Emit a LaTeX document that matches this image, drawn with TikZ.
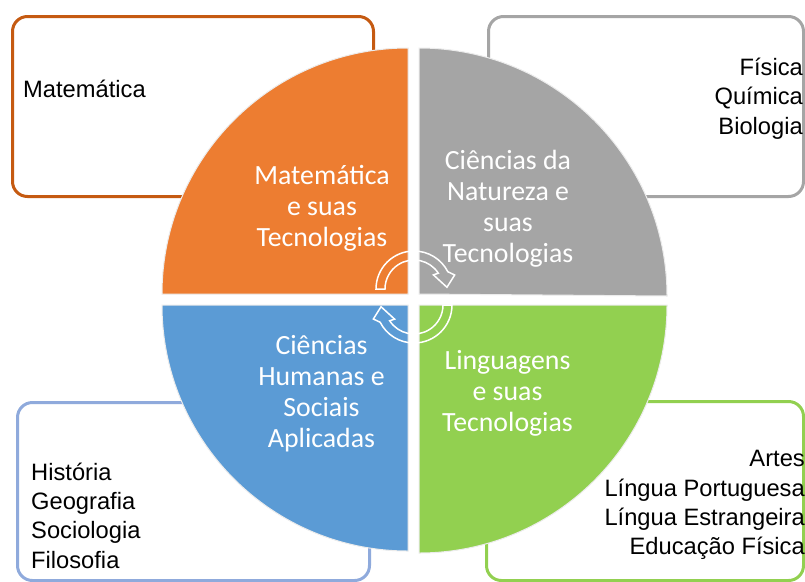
\documentclass[tikz,border=0pt]{standalone}
\usepackage{fontspec}
\setmainfont{Liberation Sans}
\newfontfamily\calfont{Carlito}
\usetikzlibrary{positioning}
\definecolor{matc}{RGB}{237,125,49}
\definecolor{matb}{RGB}{197,90,17}
\definecolor{natc}{RGB}{165,165,165}
\definecolor{humc}{RGB}{91,155,213}
\definecolor{humb}{RGB}{143,170,220}
\definecolor{linc}{RGB}{146,208,80}

\begin{document}
\begin{tikzpicture}[x=1pt,y=-1pt,every node/.style={inner sep=0pt},
  box/.style={draw=#1,line width=3pt,rounded corners=15pt,fill=white},
  quad/.style={fill=#1,draw=white!85!gray,line width=1pt},
  qtext/.style={font=\calfont\fontsize{27.8}{31}\selectfont,text=white,align=center},
  btext/.style={font=\fontsize{23.7}{29.3}\selectfont,text=black},
  turn/.style={draw=white,line width=1.5pt}]
  \useasboundingbox (0,0) rectangle (805,581);
  \clip (0,0) rectangle (805,581);
  \fill[white] (0,0) rectangle (805,581);
  \node[box=matb,minimum width=361pt,minimum height=180pt] (bmat) at (193,106.5) {};
  \node[box=natc,minimum width=315pt,minimum height=180pt] (bnat) at (646,106.5) {};
  \node[box=humb,minimum width=352pt,minimum height=178pt] (bhum) at (193.5,491.5) {};
  \node[box=linc,minimum width=317pt,minimum height=179pt] (blin) at (645,491) {};
  \path[quad=matc] (408,294) -- (162,294) arc[start angle=180,end angle=270,radius=246] -- cycle;
  \path[quad=natc] (419,294) -- (419,48) arc[start angle=270,end angle=360,radius=248] -- cycle;
  \path[quad=linc] (419,305) -- (667,305) arc[start angle=0,end angle=90,radius=248] -- cycle;
  \path[quad=humc] (408,305) -- (408,551) arc[start angle=90,end angle=180,radius=246] -- cycle;
  \node[qtext] (qmat) at (322,208) {Matemática\\e suas\\Tecnologias};
  \node[qtext] (qnat) at (508,208.5) {Ciências da\\Natureza e\\suas\\Tecnologias};
  \node[qtext] (qhum) at (321.5,394) {Ciências\\Humanas e\\Sociais\\Aplicadas};
  \node[qtext] (qlin) at (507.5,393.5) {Linguagens\\e suas\\Tecnologias};
  \coordinate (c1) at (414,289);
  \coordinate (c2) at (414,305);
  \draw[turn] ([shift={(180:38)}]c1) arc[start angle=180,end angle=333,radius=38]
    -- ([shift={(341:43)}]c1) -- ([shift={(357:33)}]c1) -- ([shift={(324:24)}]c1)
    -- ([shift={(327:29)}]c1) arc[start angle=327,end angle=180,radius=29] -- cycle;
  \draw[turn] ([shift={(0:38)}]c2) arc[start angle=0,end angle=153,radius=38]
    -- ([shift={(161:43)}]c2) -- ([shift={(177:33)}]c2) -- ([shift={(144:24)}]c2)
    -- ([shift={(147:29)}]c2) arc[start angle=147,end angle=0,radius=29] -- cycle;
  \node[btext,anchor=west] (tmat) at (23,89) {Matemática};
  \node[btext,anchor=east,align=right] (tnat) at (803,98.5) {Física\\Química\\Biologia};
  \node[btext,anchor=west,align=left] (thum) at (31,515.5) {História\\Geografia\\Sociologia\\Filosofia};
  \node[btext,anchor=east,align=right] (tlin) at (805,505) {Artes\\Língua Portuguesa\\Língua Estrangeira\\Educação Física};
\end{tikzpicture}
\end{document}
